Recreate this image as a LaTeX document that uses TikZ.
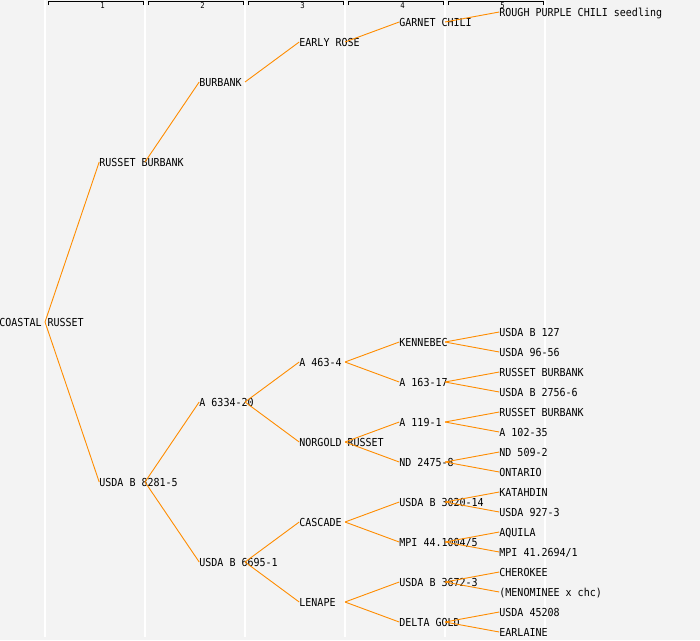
\documentclass[tikz,border=0pt]{standalone}
\usepackage{fontspec}
\setmonofont[FakeStretch=0.91]{DejaVu Sans Mono}
\definecolor{bgc}{HTML}{F3F3F3}
\definecolor{edgec}{HTML}{FF8C00}
\tikzset{
  lbl/.style={anchor=west, inner sep=0pt, text height=8pt, text depth=0pt,
    font=\ttfamily\fontsize{11}{13}\selectfont, text=black},
  edge/.style={draw=edgec, line width=0.9pt},
  gridline/.style={draw=white, line width=1.5pt},
  bracket/.style={draw=black, line width=1pt},
  hnum/.style={inner sep=0pt, font=\ttfamily\fontsize{8}{9}\selectfont, text=black}
}
\newcommand\pnode[4]{%
  \node[lbl] (#1) at ({100*#2-0.8}, #3) {#4};
  \coordinate (#1o) at ({100*#2+45}, #3);
}
\begin{document}
\begin{tikzpicture}[x=1pt, y=-1pt]
\useasboundingbox (0,0) rectangle (700,640);
\fill[bgc] (0,0) rectangle (700,640);
% column separators
\foreach \i in {0,...,5} {
  \draw[gridline] ({100*\i+45},0) -- ({100*\i+45},637);
}
% header brackets
\foreach \g in {1,...,5} {
  \draw[bracket] ({100*\g-52},5) -- ({100*\g-52},1.5) -- ({100*\g+43},1.5) -- ({100*\g+43},5);
  \node[hnum] (h\g) at ({100*\g+2.5},6) {\g};
}
% nodes
\pnode{cr}{0}{322}{COASTAL RUSSET}
\pnode{rb}{1}{162}{RUSSET BURBANK}
\pnode{ube}{1}{482}{USDA B 8281-5}
\pnode{bur}{2}{82}{BURBANK}
\pnode{asix}{2}{402}{A 6334-20}
\pnode{ubsix}{2}{562}{USDA B 6695-1}
\pnode{er}{3}{42}{EARLY ROSE}
\pnode{afour}{3}{362}{A 463-4}
\pnode{ngr}{3}{442}{NORGOLD RUSSET}
\pnode{cas}{3}{522}{CASCADE}
\pnode{len}{3}{602}{LENAPE}
\pnode{gc}{4}{22}{GARNET CHILI}
\pnode{ken}{4}{342}{KENNEBEC}
\pnode{aone}{4}{382}{A 163-17}
\pnode{aoneb}{4}{422}{A 119-1}
\pnode{nd}{4}{462}{ND 2475-8}
\pnode{ubthree}{4}{502}{USDA B 3020-14}
\pnode{mpi}{4}{542}{MPI 44.1004/5}
\pnode{ubthreeb}{4}{582}{USDA B 3672-3}
\pnode{dg}{4}{622}{DELTA GOLD}
\pnode{rp}{5}{12}{ROUGH PURPLE CHILI seedling}
\pnode{ua}{5}{332}{USDA B 127}
\pnode{ub}{5}{352}{USDA 96-56}
\pnode{rbb}{5}{372}{RUSSET BURBANK}
\pnode{uc}{5}{392}{USDA B 2756-6}
\pnode{rbc}{5}{412}{RUSSET BURBANK}
\pnode{ad}{5}{432}{A 102-35}
\pnode{nde}{5}{452}{ND 509-2}
\pnode{ont}{5}{472}{ONTARIO}
\pnode{kat}{5}{492}{KATAHDIN}
\pnode{uf}{5}{512}{USDA 927-3}
\pnode{aq}{5}{532}{AQUILA}
\pnode{mpib}{5}{552}{MPI 41.2694/1}
\pnode{cher}{5}{572}{CHEROKEE}
\pnode{men}{5}{592}{(MENOMINEE x chc)}
\pnode{ug}{5}{612}{USDA 45208}
\pnode{earl}{5}{632}{EARLAINE}
% connectors
\foreach \p/\c in {cr/rb, cr/ube, rb/bur, bur/er, er/gc, gc/rp,
  ube/asix, ube/ubsix, asix/afour, asix/ngr, afour/ken, afour/aone,
  ken/ua, ken/ub, aone/rbb, aone/uc, ngr/aoneb, ngr/nd,
  aoneb/rbc, aoneb/ad, nd/nde, nd/ont, ubsix/cas, ubsix/len,
  cas/ubthree, cas/mpi, ubthree/kat, ubthree/uf, mpi/aq, mpi/mpib,
  len/ubthreeb, len/dg, ubthreeb/cher, ubthreeb/men, dg/ug, dg/earl} {
  \draw[edge] (\p o) -- (\c.west);
}
\end{tikzpicture}
\end{document}
